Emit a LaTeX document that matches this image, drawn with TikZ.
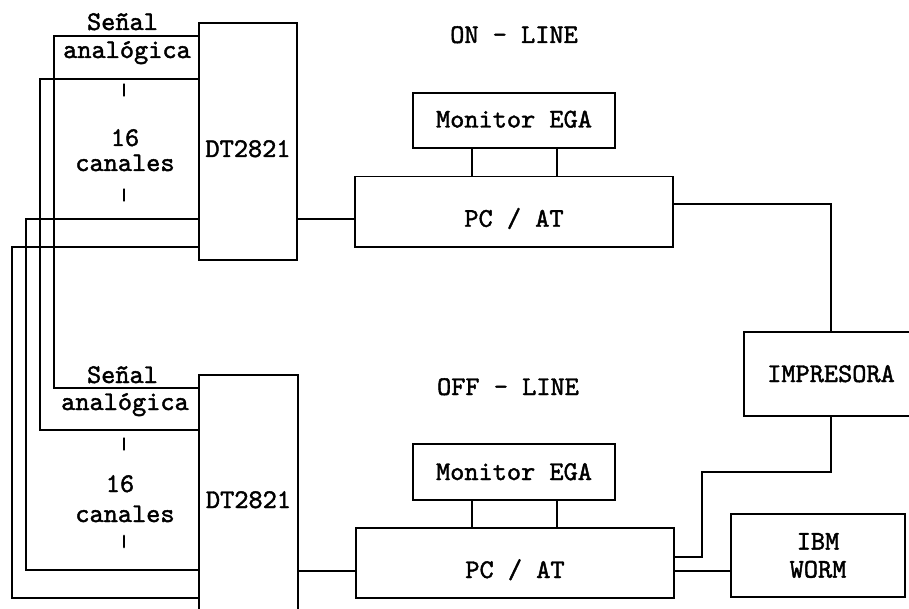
\documentclass[tikz,border=0pt]{standalone}
\usepackage{fontspec}
\newfontfamily\dmmono{lmmono10-regular.otf}[FakeBold=1.6]
\newfontfamily\dmbarfam{lmmono10-regular.otf}[FakeBold=5]
\newcommand\dmfont{\dmmono\fontsize{27pt}{28pt}\selectfont}
\newcommand\dmbar{\dmbarfam\fontsize{16pt}{16pt}\selectfont}
\tikzset{
  box/.style={draw, line width=1.5pt, inner sep=0pt, outer sep=0pt, font=\dmfont,
    text height=16pt, text depth=0pt, align=center},
  lbl/.style={inner sep=0pt, outer sep=0pt, font=\dmfont, anchor=base},
  barlbl/.style={inner sep=0pt, outer sep=0pt, font=\dmbar, anchor=center},
  wire/.style={line width=1.5pt, line join=miter},
}
\begin{document}
\begin{tikzpicture}[x=1pt, y=-1pt]
\useasboundingbox (0,0) rectangle (909,609);
\clip (0,0) rectangle (909,609);
\fill[white] (0,0) rectangle (909,609);

% ---- boxes ----
\node[box, minimum width=98pt, minimum height=237pt, text height=31pt] (dtA) at (248,141.5) {DT2821};
\node[box, minimum width=99pt, minimum height=250pt] (dtB) at (248.5,500) {DT2821};

\node[box, minimum width=202pt, minimum height=55pt, text height=14pt] (monA) at (514,120.5) {Monitor EGA};
\node[box, minimum width=318pt, minimum height=70.5pt, text height=30pt] (pcA) at (514,211.75) {PC / AT};

\node[box, minimum width=202pt, minimum height=56pt, text height=16pt] (monB) at (514,472) {Monitor EGA};
\node[box, minimum width=318pt, minimum height=70pt, text height=30pt] (pcB) at (515,563) {PC / AT};

\node[box, minimum width=174pt, minimum height=84pt] (prn) at (831,374) {IMPRESORA};
\node[box, minimum width=174pt, minimum height=83pt, text height=, text depth=] (worm) at (818,555.5) {IBM\\WORM};

% ---- free texts ----
\node[lbl] (onl) at (514,43) {ON - LINE};
\node[lbl] (offl) at (508,395) {OFF - LINE};

\node[lbl] (senA) at (122.5,30) {Señal};
\node[lbl] (anaA) at (127,58) {analógica};
\node[barlbl] (barA1) at (124,90) {|};
\node[lbl] (numA) at (125,146) {16};
\node[lbl] (canA) at (125,171) {canales};
\node[barlbl] (barA2) at (124,195) {|};

\node[lbl] (senB) at (122.5,383) {Señal};
\node[lbl] (anaB) at (125,410) {analógica};
\node[barlbl] (barB1) at (124,444) {|};
\node[lbl] (numB) at (120,492) {16};
\node[lbl] (canB) at (125,522) {canales};
\node[barlbl] (barB2) at (124,541.5) {|};

% ---- connectors ----
\draw[wire] (monA.south -| 472,0) -- (pcA.north -| 472,0);
\draw[wire] (monA.south -| 557,0) -- (pcA.north -| 557,0);
\draw[wire] (monB.south -| 472,0) -- (pcB.north -| 472,0);
\draw[wire] (monB.south -| 557,0) -- (pcB.north -| 557,0);

\draw[wire] (dtA.east |- 0,219) -- (pcA.west |- 0,219);
\draw[wire] (dtB.east |- 0,571) -- (pcB.west |- 0,571);

\draw[wire] (pcA.east |- 0,204) -| (prn.north);
\draw[wire] (prn.south) |- (702,472) |- (pcB.east |- 0,557);
\draw[wire] (pcB.east |- 0,571) -- (worm.west |- 0,571);

\draw[wire] (dtA.west |- 0,36) -| (54,388) -- (dtB.west |- 0,388);
\draw[wire] (dtA.west |- 0,79) -| (40,430) -- (dtB.west |- 0,430);
\draw[wire] (dtA.west |- 0,219) -| (26,570) -- (dtB.west |- 0,570);
\draw[wire] (dtA.west |- 0,247) -| (12,598) -- (dtB.west |- 0,598);
\end{tikzpicture}
\end{document}
